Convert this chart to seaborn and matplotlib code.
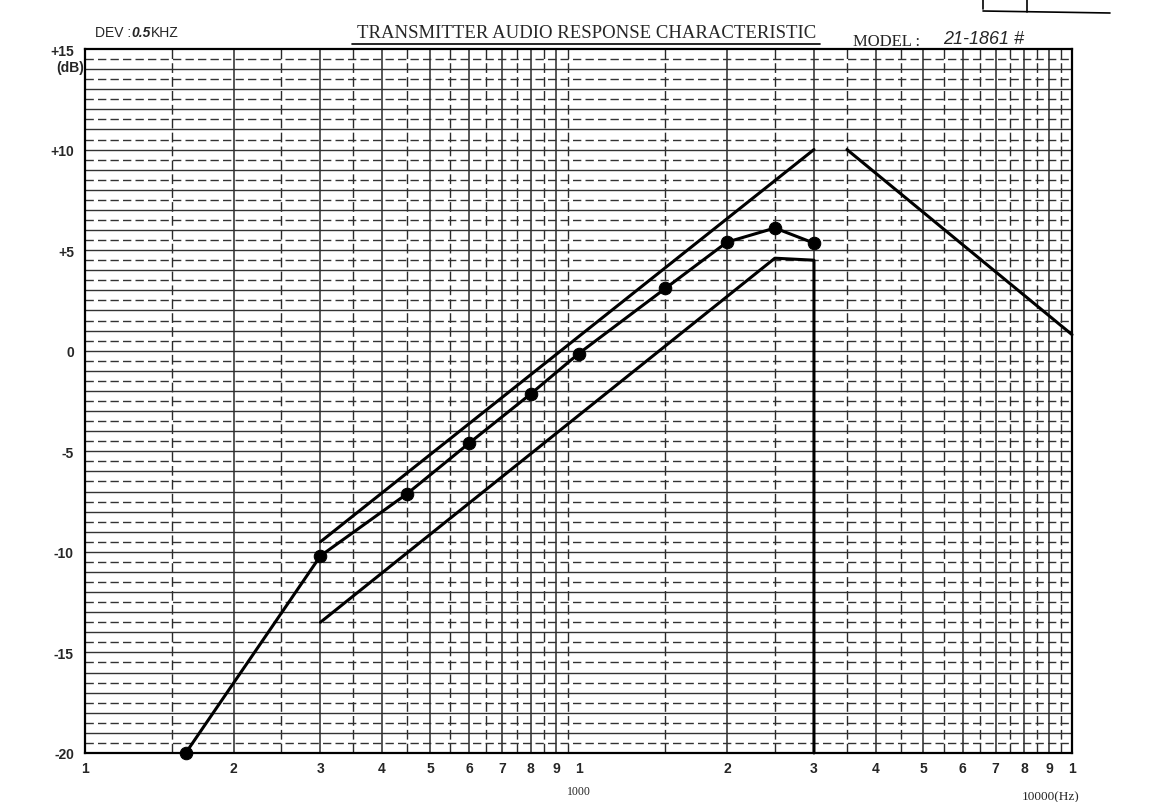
import numpy as np
import pandas as pd
import matplotlib
matplotlib.use('Agg')
import matplotlib.pyplot as plt
from matplotlib.lines import Line2D
import matplotlib.transforms as mtrans
import seaborn as sns

# 实测频响 (Hz, dB)
freq_meas = [160, 300, 450, 600, 800, 1000, 1500, 2000, 2500, 3000]
db_meas = [-20.0, -10.2, -7.1, -4.6, -2.15, -0.15, 3.1, 5.4, 6.1, 5.35]

# 上限
freq_upper = [300, 3000]
db_upper = [-9.5, 10.0]
freq_upper_hi = [3500, 10000]
db_upper_hi = [10.0, 0.8]

# 下限
freq_lower = [300, 2500, 3000, 3000]
db_lower = [-13.5, 4.6, 4.5, -20.0]

# 刻度
ytick_vals = [15, 10, 5, 0, -5, -10, -15, -20]
ytick_text = ['+15', '+10', '+5', '0', '-5', '-10', '-15', '-20']
xtick_vals = [100, 200, 300, 400, 500, 600, 700, 800, 900,
              1000, 2000, 3000, 4000, 5000, 6000, 7000, 8000, 9000, 10000]
xtick_text = ['1', '2', '3', '4', '5', '6', '7', '8', '9',
              '1', '2', '3', '4', '5', '6', '7', '8', '9', '1']

sns.set_style('white')
plt.rcParams['font.family'] = ['Liberation Sans', 'DejaVu Sans']

W, H = 1153, 803
fig = plt.figure(figsize=(W / 100, H / 100), dpi=100)
left, right, top, bottom = 85, 1072, 50, 754
ax = fig.add_axes([left / W, 1 - bottom / H, (right - left) / W, (bottom - top) / H])

ax.set_xscale('log')
ax.set_xlim(100, 10000)
ax.set_ylim(-20, 15)

# 网格: 整数倍实线, 半格虚线
grid_c = '#2a2a2a'
for dec in [100, 1000]:
    for m in range(1, 10):
        if m > 1:
            ax.axvline(dec * m, color=grid_c, lw=1.1, zorder=1)
        ax.axvline(dec * (m + 0.5), color=grid_c, lw=1.0, ls=(0, (7, 3)), zorder=1)
for v in range(-19, 15):
    ax.axhline(v, color='#333333', lw=1.0, zorder=1)
for v in np.arange(-19.5, 15, 1.0):
    ax.axhline(v, color='#333333', lw=1.0, ls=(0, (6, 3)), zorder=1)

# 曲线
kw = dict(color='black', lw=2.2, sort=False, estimator=None, ax=ax, zorder=3, clip_on=False)
sns.lineplot(x=freq_upper, y=db_upper, **kw)
sns.lineplot(x=freq_upper_hi, y=db_upper_hi, **kw)
sns.lineplot(x=freq_lower, y=db_lower, **kw)
sns.lineplot(x=freq_meas, y=db_meas, marker='o', markersize=9,
             markeredgecolor='black', markerfacecolor='black', **kw)

for s in ax.spines.values():
    s.set_color('black')
    s.set_linewidth(1.6)

ax.set_xticks(xtick_vals)
ax.set_xticklabels(xtick_text)
ax.xaxis.set_minor_locator(matplotlib.ticker.NullLocator())
ax.set_yticks(ytick_vals)
ax.set_yticklabels(ytick_text)
ax.tick_params(axis='both', length=0, labelsize=10)
ax.tick_params(axis='x', pad=6)
ax.tick_params(axis='y', pad=8)
for lab in ax.get_xticklabels() + ax.get_yticklabels():
    lab.set_fontweight('bold')
ax.set_xlabel('')
ax.set_ylabel('')

trans = mtrans.blended_transform_factory(ax.transData, fig.transFigure)
ax.text(1000, 1 - 792 / H, '1000', transform=trans, ha='center', va='center',
        fontsize=8.5, family='Liberation Serif')
ax.text(10350, 1 - 797 / H, '10000(Hz)', transform=trans, ha='right', va='center',
        fontsize=9.5, family='Liberation Serif')
fig.text(70 / W, 1 - 68 / H, '(dB)', ha='center', va='center', fontsize=10,
         fontweight='bold')

# 标题
fig.text(587 / W, 1 - 33 / H, 'TRANSMITTER AUDIO RESPONSE CHARACTERISTIC',
         ha='center', va='center', fontsize=13.5, family='Liberation Serif')
fig.add_artist(Line2D([352 / W, 820 / W], [1 - 45 / H, 1 - 45 / H],
                      color='black', lw=1.2))
fig.text(95 / W, 1 - 33 / H, 'DEV :', ha='left', va='center', fontsize=10)
fig.text(131 / W, 1 - 33 / H, '0.5', ha='left', va='center', fontsize=10,
         style='italic', fontweight='bold')
fig.text(151 / W, 1 - 33 / H, 'KHZ', ha='left', va='center', fontsize=10)
fig.text(853 / W, 1 - 42 / H, 'MODEL :', ha='left', va='center', fontsize=12,
         family='Liberation Serif')
fig.text(943 / W, 1 - 40 / H, '21-1861 #', ha='left', va='center', fontsize=13,
         style='italic')

# 右上角残留的表格线
fig.add_artist(Line2D([983 / W, 1110 / W], [1 - 12 / H, 1 - 14 / H], color='black', lw=1.2))
fig.add_artist(Line2D([983 / W, 983 / W], [1.0, 1 - 10 / H], color='black', lw=1.2))
fig.add_artist(Line2D([1027 / W, 1027 / W], [1.0, 1 - 13 / H], color='black', lw=1.2))

fig.savefig('out.png', dpi=100)
